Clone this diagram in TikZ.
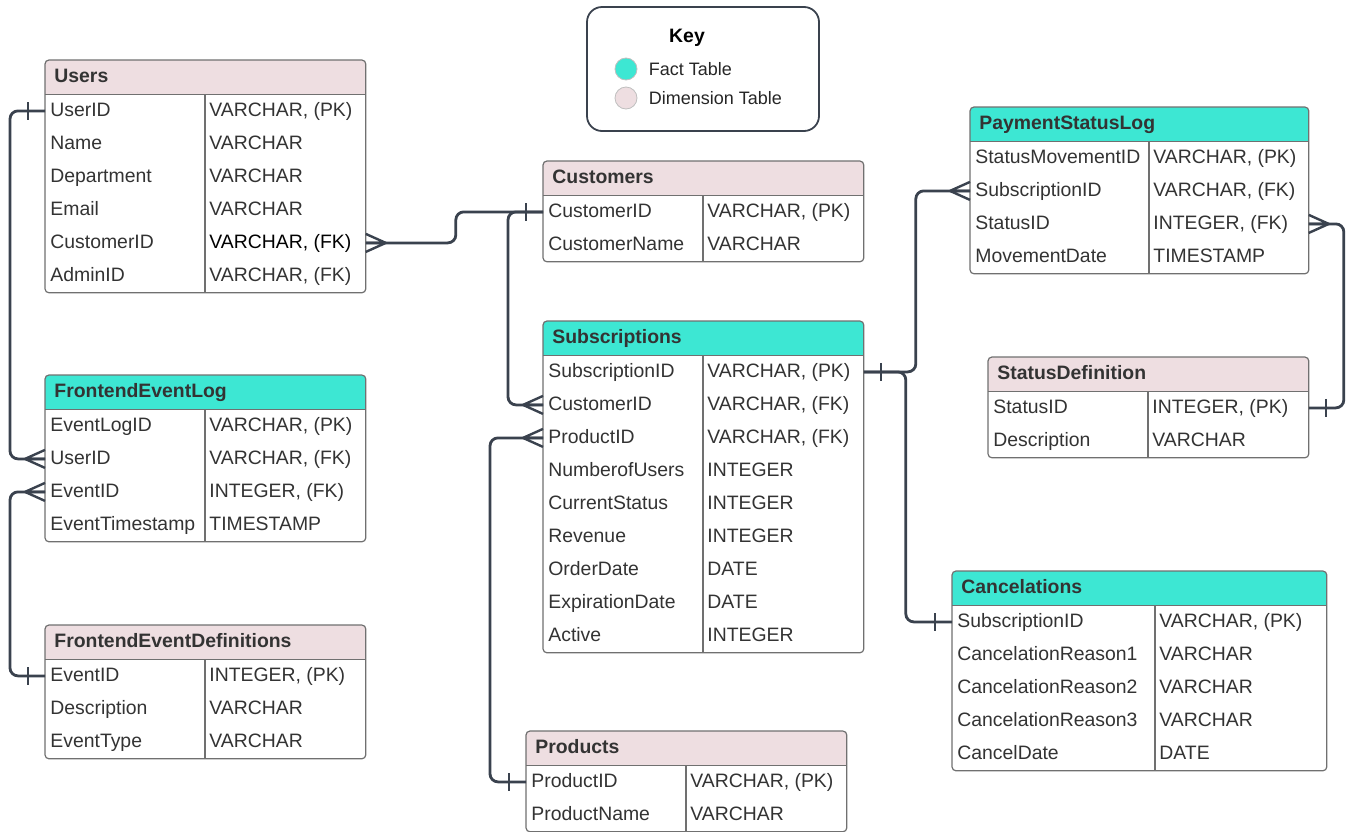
\documentclass[tikz,border=0pt]{standalone}
\usepackage{fontspec}
\setmainfont{Liberation Sans}
\usetikzlibrary{positioning,backgrounds,calc}

\definecolor{facttone}{RGB}{61,231,211}
\definecolor{dimtone}{RGB}{238,222,225}
\definecolor{linedark}{RGB}{58,66,78}
\definecolor{bordergray}{RGB}{112,112,112}
\definecolor{txtgray}{RGB}{51,51,51}

\tikzset{
  fieldtext/.style={font=\fontsize{9.7}{11}\selectfont, text=txtgray, inner sep=0pt, text height=7.6pt, text depth=2.4pt, anchor=west},
  headtext/.style={fieldtext, font=\fontsize{9.7}{11}\selectfont\bfseries},
  rowcell/.style={draw=none, inner sep=0pt, minimum height=16.5pt, anchor=north west},
  headcell/.style={draw=none, inner sep=0pt, minimum height=17pt, anchor=north west},
  tableline/.style={draw=bordergray, line width=0.6pt},
  conn/.style={draw=linedark, line width=1.4pt, rounded corners=4pt},
  markline/.style={draw=linedark, line width=1.2pt},
  crowfoot/.pic={\draw[markline] (20,0) -- (0,9) (20,0) -- (0,0) (20,0) -- (0,-9);},
  onebar/.pic={\draw[markline] (17,-9) -- (17,9);},
  keybox/.style={draw=linedark, line width=0.9pt, rounded corners=7.5pt, minimum width=116pt, minimum height=62pt, inner sep=0pt},
  keydot/.style={circle, draw=black!25, line width=0.4pt, minimum size=11pt, inner sep=0pt},
  keytext/.style={font=\fontsize{9}{11}\selectfont, text=black!85, inner sep=0pt}
}

% table: name, left, top, width, divider, header colour, title, rows
\newcommand{\erdtable}[8]{%
  \node[headcell, minimum width=#4*0.5pt] (#1) at (#2,#3) {};
  \node[headtext] (#1-title) at ([xshift=4.5pt]#1.west) {#7};
  \foreach \fname/\ftype [count=\i] in {#8}{%
    \node[rowcell, minimum width=#4*0.5pt] (#1-\i) at (#2,{#3+34+(\i-1)*33}) {};
    \node[fieldtext] (#1-\i-f) at ([xshift=2.5pt]#1-\i.west) {\fname};
    \node[fieldtext] (#1-\i-t) at ([xshift={(#5+4)*0.5pt}]#1-\i.west) {\ftype};
    \xdef\lastrow{\i}%
  }
  \begin{scope}[on background layer]
    \fill[#6, rounded corners=2pt] (#1.north west) rectangle ([yshift=-5pt]#1.south east);
    \fill[white] (#1-1.north west) rectangle (#1-\lastrow.south east);
  \end{scope}
  \draw[tableline] (#1.south west) -- (#1.south east);
  \draw[tableline] ([xshift=#5*0.5pt]#1.south west) -- ([xshift=#5*0.5pt]#1-\lastrow.south west);
  \draw[tableline, rounded corners=2pt] (#1.north west) rectangle (#1-\lastrow.south east);
}

\begin{document}
\begin{tikzpicture}[x=0.5pt,y=-0.5pt]
\useasboundingbox (0,0) rectangle (1350,831);

%Shape: Key
\node[keybox] (keybox) at (703,69) {};
\node[keytext, font=\fontsize{9.7}{11}\selectfont\bfseries, text=black] (keytitle) at (687,38) {Key};
\node[keydot, fill=facttone] (keyfact) at (626,69) {};
\node[keytext, right=5.5pt of keyfact] (keyfacttext) {Fact Table};
\node[keydot, fill=dimtone] (keydim) at (626,98) {};
\node[keytext, right=5.5pt of keydim] (keydimtext) {Dimension Table};

%Shape: Tables
\erdtable{users}{45}{60}{320}{160}{dimtone}{Users}{UserID/{VARCHAR, (PK)}, Name/VARCHAR, Department/VARCHAR, Email/VARCHAR, CustomerID/{\textcolor{black}{VARCHAR, (FK)}}, AdminID/{VARCHAR, (FK)}}
\erdtable{customers}{543}{161}{320}{160}{dimtone}{Customers}{CustomerID/{VARCHAR, (PK)}, CustomerName/VARCHAR}
\erdtable{subs}{543}{321}{320}{160}{facttone}{Subscriptions}{SubscriptionID/{VARCHAR, (PK)}, CustomerID/{VARCHAR, (FK)}, ProductID/{VARCHAR, (FK)}, NumberofUsers/INTEGER, CurrentStatus/INTEGER, Revenue/INTEGER, OrderDate/DATE, ExpirationDate/DATE, Active/INTEGER}
\erdtable{paylog}{970}{107}{338}{179}{facttone}{PaymentStatusLog}{StatusMovementID/{VARCHAR, (PK)}, SubscriptionID/{VARCHAR, (FK)}, StatusID/{INTEGER, (FK)}, MovementDate/TIMESTAMP}
\erdtable{statusdef}{988}{357}{320}{160}{dimtone}{StatusDefinition}{StatusID/{INTEGER, (PK)}, Description/VARCHAR}
\erdtable{eventlog}{45}{375}{320}{160}{facttone}{FrontendEventLog}{EventLogID/{VARCHAR, (PK)}, UserID/{VARCHAR, (FK)}, EventID/{INTEGER, (FK)}, EventTimestamp/TIMESTAMP}
\erdtable{eventdef}{45}{625}{320}{160}{dimtone}{FrontendEventDefinitions}{EventID/{INTEGER, (PK)}, Description/VARCHAR, EventType/VARCHAR}
\erdtable{products}{526}{731}{320}{160}{dimtone}{Products}{ProductID/{VARCHAR, (PK)}, ProductName/VARCHAR}
\erdtable{cancels}{952}{571}{374}{203}{facttone}{Cancelations}{SubscriptionID/{VARCHAR, (PK)}, CancelationReason1/VARCHAR, CancelationReason2/VARCHAR, CancelationReason3/VARCHAR, CancelDate/DATE}

%Connectors
% Users -- FrontendEventLog
\draw[conn] (users-1.west) -- ++(-35,0) |- (eventlog-2.west);
\pic[rotate=180] at (users-1.west) {onebar};
\pic[rotate=180] at (eventlog-2.west) {crowfoot};
% Users -- Customers
\draw[conn] (users-5.east) -- ++(90,0) |- (customers-1.west);
\pic at (users-5.east) {crowfoot};
\pic[rotate=180] at (customers-1.west) {onebar};
% Customers -- Subscriptions
\draw[conn] (customers-1.west) -- ++(-35,0) |- (subs-2.west);
\pic[rotate=180] at (subs-2.west) {crowfoot};
% Subscriptions -- Products
\draw[conn] (subs-3.west) -- ++(-53,0) |- (products-1.west);
\pic[rotate=180] at (subs-3.west) {crowfoot};
\pic[rotate=180] at (products-1.west) {onebar};
% FrontendEventLog -- FrontendEventDefinitions
\draw[conn] (eventlog-3.west) -- ++(-35,0) |- (eventdef-1.west);
\pic[rotate=180] at (eventlog-3.west) {crowfoot};
\pic[rotate=180] at (eventdef-1.west) {onebar};
% Subscriptions -- PaymentStatusLog, Cancelations
\draw[conn] (subs-1.east) -- ++(52,0) |- (paylog-2.west);
\draw[conn] (subs-1.east) -- ++(42,0) |- (cancels-1.west);
\pic at (subs-1.east) {onebar};
\pic[rotate=180] at (paylog-2.west) {crowfoot};
\pic[rotate=180] at (cancels-1.west) {onebar};
% PaymentStatusLog -- StatusDefinition
\draw[conn] (paylog-3.east) -- ++(35,0) |- (statusdef-1.east);
\pic at (paylog-3.east) {crowfoot};
\pic at (statusdef-1.east) {onebar};

\end{tikzpicture}
\end{document}
